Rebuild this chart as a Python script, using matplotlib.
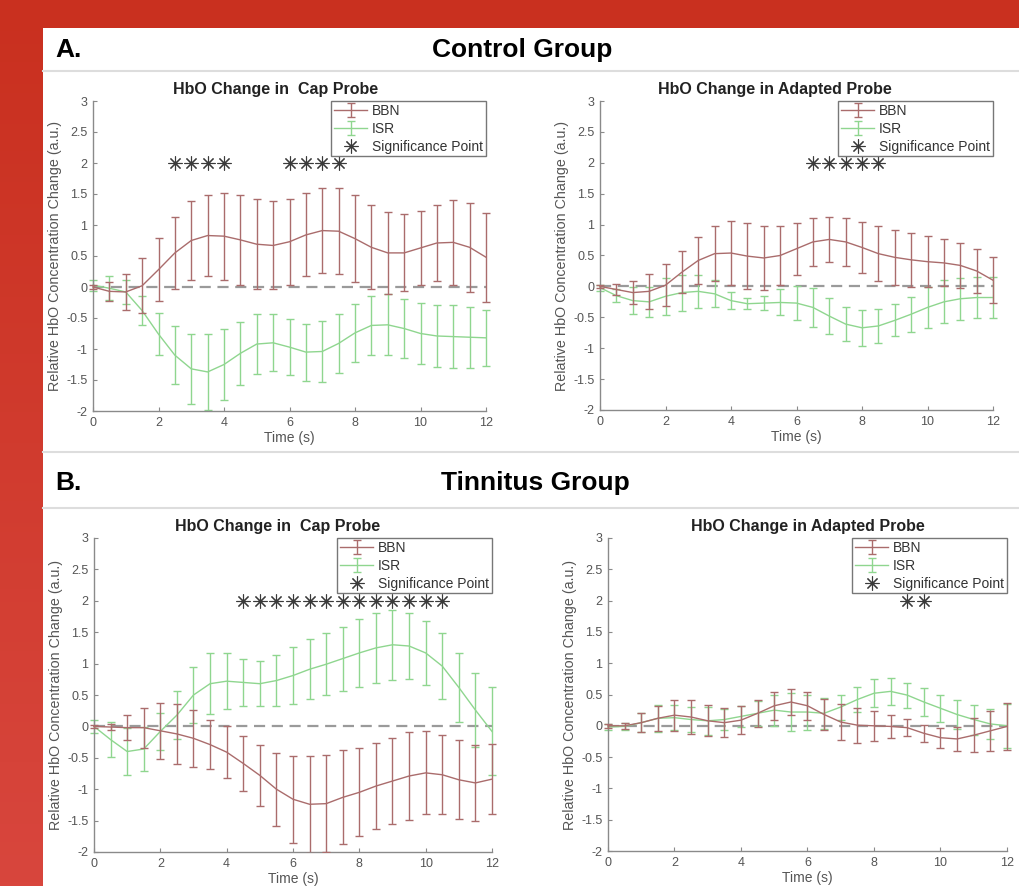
import numpy as np
import matplotlib
matplotlib.use("Agg")
import matplotlib.pyplot as plt
from matplotlib.patches import Rectangle
from matplotlib.lines import Line2D
from matplotlib.colors import LinearSegmentedColormap

plt.rcParams['font.family'] = ['Liberation Sans', 'DejaVu Sans']

# time points (s)
t = [0, 0.5, 1, 1.5, 2, 2.5, 3, 3.5, 4, 4.5, 5, 5.5, 6,
     6.5, 7, 7.5, 8, 8.5, 9, 9.5, 10, 10.5, 11, 11.5, 12]

# A. Control group, cap probe
ctrl_cap_bbn = [0.0, -0.07, -0.08, 0.02, 0.28, 0.55, 0.75, 0.83, 0.82, 0.76, 0.69, 0.67, 0.73,
                0.84, 0.91, 0.90, 0.78, 0.64, 0.55, 0.55, 0.63, 0.71, 0.72, 0.64, 0.48]
ctrl_cap_bbn_err = [0.04, 0.15, 0.29, 0.44, 0.51, 0.58, 0.63, 0.66, 0.70, 0.73, 0.73, 0.71, 0.69,
                    0.67, 0.68, 0.69, 0.70, 0.68, 0.66, 0.62, 0.60, 0.62, 0.68, 0.72, 0.72]
ctrl_cap_isr = [0.03, -0.02, -0.08, -0.38, -0.76, -1.10, -1.32, -1.37, -1.25, -1.07, -0.92, -0.90, -0.97,
                -1.05, -1.04, -0.91, -0.74, -0.62, -0.61, -0.67, -0.75, -0.79, -0.80, -0.81, -0.82]
ctrl_cap_isr_err = [0.09, 0.19, 0.20, 0.23, 0.34, 0.47, 0.56, 0.61, 0.58, 0.51, 0.49, 0.46, 0.45,
                    0.46, 0.49, 0.48, 0.47, 0.48, 0.49, 0.48, 0.49, 0.50, 0.51, 0.49, 0.45]
ctrl_cap_sig = [2.5, 3, 3.5, 4, 6, 6.5, 7, 7.5]

# A. Control group, adapted probe
ctrl_ad_bbn = [0.0, -0.05, -0.10, -0.08, 0.02, 0.23, 0.42, 0.53, 0.54, 0.49, 0.46, 0.50, 0.61,
               0.72, 0.76, 0.72, 0.63, 0.53, 0.47, 0.43, 0.40, 0.38, 0.34, 0.25, 0.10]
ctrl_ad_bbn_err = [0.03, 0.09, 0.19, 0.28, 0.34, 0.34, 0.38, 0.45, 0.52, 0.54, 0.52, 0.47, 0.42,
                   0.39, 0.37, 0.39, 0.41, 0.44, 0.45, 0.44, 0.41, 0.38, 0.37, 0.35, 0.37]
ctrl_ad_isr = [-0.02, -0.15, -0.23, -0.25, -0.16, -0.10, -0.08, -0.12, -0.23, -0.28, -0.27, -0.26, -0.27,
               -0.34, -0.48, -0.61, -0.67, -0.64, -0.55, -0.45, -0.34, -0.25, -0.20, -0.18, -0.18]
ctrl_ad_isr_err = [0.05, 0.10, 0.22, 0.24, 0.30, 0.29, 0.27, 0.22, 0.14, 0.09, 0.11, 0.21, 0.27,
                   0.32, 0.29, 0.27, 0.29, 0.28, 0.26, 0.28, 0.33, 0.35, 0.34, 0.33, 0.33]
ctrl_ad_sig = [6.5, 7, 7.5, 8, 8.5]

# B. Tinnitus group, cap probe
tin_cap_bbn = [0.0, -0.01, -0.02, -0.02, -0.07, -0.12, -0.19, -0.29, -0.41, -0.59, -0.78, -1.00, -1.16,
               -1.24, -1.23, -1.13, -1.05, -0.95, -0.87, -0.79, -0.74, -0.77, -0.85, -0.90, -0.84]
tin_cap_bbn_err = [0.02, 0.05, 0.20, 0.32, 0.45, 0.48, 0.45, 0.39, 0.41, 0.44, 0.49, 0.58, 0.69,
                   0.77, 0.77, 0.75, 0.70, 0.69, 0.69, 0.70, 0.66, 0.63, 0.63, 0.61, 0.56]
tin_cap_isr = [0.0, -0.21, -0.40, -0.36, -0.08, 0.18, 0.50, 0.68, 0.72, 0.70, 0.68, 0.73, 0.81,
               0.91, 0.99, 1.08, 1.17, 1.25, 1.30, 1.28, 1.17, 0.96, 0.62, 0.26, -0.08]
tin_cap_isr_err = [0.10, 0.28, 0.37, 0.35, 0.29, 0.38, 0.45, 0.49, 0.45, 0.37, 0.36, 0.41, 0.46,
                   0.48, 0.49, 0.51, 0.54, 0.56, 0.56, 0.53, 0.51, 0.53, 0.55, 0.59, 0.70]
tin_cap_sig = [4.5, 5, 5.5, 6, 6.5, 7, 7.5, 8, 8.5, 9, 9.5, 10, 10.5]

# B. Tinnitus group, adapted probe
tin_ad_bbn = [0.0, 0.0, 0.05, 0.12, 0.17, 0.14, 0.08, 0.05, 0.09, 0.20, 0.32, 0.38, 0.32,
              0.18, 0.06, 0.01, 0.0, -0.01, -0.03, -0.12, -0.19, -0.21, -0.15, -0.08, -0.01]
tin_ad_bbn_err = [0.03, 0.05, 0.15, 0.20, 0.25, 0.27, 0.25, 0.23, 0.22, 0.22, 0.22, 0.21, 0.22,
                  0.25, 0.29, 0.28, 0.24, 0.18, 0.14, 0.14, 0.16, 0.19, 0.27, 0.32, 0.37]
tin_ad_isr = [-0.02, -0.01, 0.05, 0.12, 0.13, 0.10, 0.08, 0.10, 0.15, 0.20, 0.25, 0.22, 0.22,
              0.20, 0.30, 0.42, 0.52, 0.55, 0.49, 0.38, 0.28, 0.18, 0.10, 0.03, 0.0]
tin_ad_isr_err = [0.05, 0.06, 0.15, 0.22, 0.20, 0.20, 0.22, 0.17, 0.17, 0.20, 0.25, 0.30, 0.28,
                  0.25, 0.20, 0.20, 0.22, 0.22, 0.20, 0.22, 0.22, 0.23, 0.24, 0.24, 0.35]
tin_ad_sig = [9, 9.5]

BBN_COL = '#aa6c6c'
ISR_COL = '#8fd68f'
AX_COL = '#8a8a8a'
TXT_COL = '#555555'
SIG_MARKER = (8, 2, 0)

W, H = 1020, 886
fig = plt.figure(figsize=(W / 100, H / 100), dpi=100)
fig.patch.set_facecolor('#c9301f')

# red frame, slightly lighter toward the bottom on the left
bg = fig.add_axes([0, 0, 43 / W, 1], zorder=-10)
grad = np.linspace(0, 1, 200)[:, None]
red_cmap = LinearSegmentedColormap.from_list('redstrip', ['#c9301f', '#d8463d'])
bg.imshow(grad, aspect='auto', cmap=red_cmap, extent=[0, 1, 1, 0])
bg.axis('off')

fig.patches.append(Rectangle((43 / W, 0), 1 - 43 / W, 1 - 28 / H, transform=fig.transFigure,
                             facecolor='white', edgecolor='none', zorder=-5))
for yy in (71, 452, 508):
    fig.add_artist(Line2D([43 / W, 1], [1 - yy / H] * 2, color='#dddddd', lw=1.5, zorder=-4))

fig.text(55 / W, 1 - 50 / H, 'A.', fontsize=19, fontweight='bold', va='center', ha='left')
fig.text(522 / W, 1 - 50 / H, 'Control Group', fontsize=19, fontweight='bold', va='center', ha='center')
fig.text(55 / W, 1 - 483 / H, 'B.', fontsize=19, fontweight='bold', va='center', ha='left')
fig.text(535 / W, 1 - 483 / H, 'Tinnitus Group', fontsize=19, fontweight='bold', va='center', ha='center')

panels = [
    # (left, top, right, bottom) in pixels, title, title x, data
    ((93, 101, 486, 411), 'HbO Change in  Cap Probe', 0.465,
     ctrl_cap_bbn, ctrl_cap_bbn_err, ctrl_cap_isr, ctrl_cap_isr_err, ctrl_cap_sig),
    ((600, 101, 993, 410), 'HbO Change in Adapted Probe', 0.445,
     ctrl_ad_bbn, ctrl_ad_bbn_err, ctrl_ad_isr, ctrl_ad_isr_err, ctrl_ad_sig),
    ((94, 538, 492, 852), 'HbO Change in  Cap Probe', 0.46,
     tin_cap_bbn, tin_cap_bbn_err, tin_cap_isr, tin_cap_isr_err, tin_cap_sig),
    ((608, 538, 1007, 851), 'HbO Change in Adapted Probe', 0.5,
     tin_ad_bbn, tin_ad_bbn_err, tin_ad_isr, tin_ad_isr_err, tin_ad_sig),
]

for (l, tp, r, b), title, tx, bbn, bbn_e, isr, isr_e, sig in panels:
    ax = fig.add_axes([l / W, 1 - b / H, (r - l) / W, (b - tp) / H])
    ax.set_facecolor('none')
    ax.axhline(0, color='#9a9a9a', ls=(0, (5, 3)), lw=1.6, zorder=1)
    # let the caps at t=12 show fully, but keep the vertical clipping at the axes
    clip = Rectangle((-0.03, 0), 1.06, 1, transform=ax.transAxes)
    handles = []
    for y, e, c, lab, z in ((bbn, bbn_e, BBN_COL, 'BBN', 3), (isr, isr_e, ISR_COL, 'ISR', 2)):
        cont = ax.errorbar(t, y, yerr=e, color=c, lw=1.0, elinewidth=1.0,
                           capsize=2.8, capthick=1.0, label=lab, zorder=z)
        for art in [cont[0], *cont[1], *cont[2]]:
            art.set_clip_path(clip)
        handles.append(cont)
    sp, = ax.plot(sig, [2] * len(sig), ls='none', marker=SIG_MARKER, ms=10, mew=0.8,
                  color='#3a3a3a', label='Significance Point', zorder=4)
    handles.append(sp)

    ax.set_xlim(0, 12)
    ax.set_ylim(-2, 3)
    ax.set_xticks([0, 2, 4, 6, 8, 10, 12])
    ax.set_yticks([-2, -1.5, -1, -0.5, 0, 0.5, 1, 1.5, 2, 2.5, 3])
    ax.set_yticklabels(['-2', '-1.5', '-1', '-0.5', '0', '0.5', '1', '1.5', '2', '2.5', '3'])
    for s in ('top', 'right'):
        ax.spines[s].set_visible(False)
    for s in ('left', 'bottom'):
        ax.spines[s].set_color(AX_COL)
        ax.spines[s].set_linewidth(1.0)
    ax.tick_params(direction='in', length=3, width=0.8, color=AX_COL,
                   labelcolor=TXT_COL, labelsize=9, pad=4)

    ax.set_title(title, x=tx, fontsize=11.5, fontweight='bold', color='#222222', pad=5)
    ax.set_xlabel('Time (s)', fontsize=10, color=TXT_COL, labelpad=2)
    ax.set_ylabel('Relative HbO Concentration Change (a.u.)', fontsize=10.3, color=TXT_COL, labelpad=3)

    leg = ax.legend(handles=handles, labels=['BBN', 'ISR', 'Significance Point'],
                    loc='upper right', borderaxespad=0, fancybox=False, framealpha=1,
                    fontsize=10, handlelength=2.4, handletextpad=0.35, labelspacing=0.28,
                    borderpad=0.2, labelcolor='#333333')
    leg.get_frame().set_edgecolor('#777777')
    leg.get_frame().set_linewidth(1.0)

fig.savefig('out.png', dpi=100, facecolor=fig.get_facecolor())
